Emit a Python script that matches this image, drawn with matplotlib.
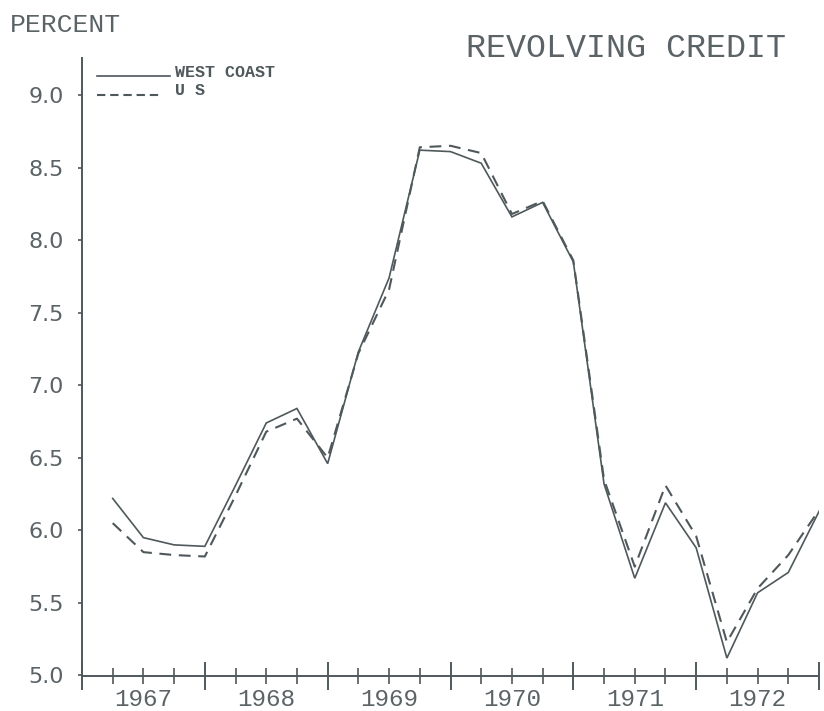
import numpy as np
import matplotlib
matplotlib.use('Agg')
import matplotlib.pyplot as plt
from matplotlib.lines import Line2D
from matplotlib.ticker import FixedLocator, FixedFormatter

# quarterly observations, plotted at end of quarter (decimal years)
quarters = [1967.25, 1967.50, 1967.75, 1968.00,
            1968.25, 1968.50, 1968.75, 1969.00,
            1969.25, 1969.50, 1969.75, 1970.00,
            1970.25, 1970.50, 1970.75, 1971.00,
            1971.25, 1971.50, 1971.75, 1972.00,
            1972.25, 1972.50, 1972.75, 1973.00]

west_coast = [6.22, 5.95, 5.90, 5.89,
              6.31, 6.74, 6.84, 6.46,
              7.23, 7.74, 8.62, 8.61,
              8.53, 8.16, 8.26, 7.85,
              6.32, 5.67, 6.19, 5.88,
              5.12, 5.57, 5.71, 6.13]

us = [6.05, 5.85, 5.83, 5.82,
      6.24, 6.68, 6.77, 6.50,
      7.22, 7.66, 8.64, 8.65,
      8.60, 8.18, 8.27, 7.86,
      6.35, 5.75, 6.31, 5.96,
      5.23, 5.60, 5.83, 6.14]

years = [1967, 1968, 1969, 1970, 1971, 1972]
y_ticks = [5.0, 5.5, 6.0, 6.5, 7.0, 7.5, 8.0, 8.5, 9.0]

INK = '#4f585b'
W, H = 824, 711
plt.rcParams['lines.scale_dashes'] = False

fig = plt.figure(figsize=(W / 100, H / 100), dpi=100)
ax = fig.add_axes([82 / W, 1 - 675.5 / H, (819 - 82) / W, (675.5 - 58) / H])

ax.plot(quarters, west_coast, color=INK, lw=1.2, solid_joinstyle='miter')
ax.plot(quarters, us, color=INK, lw=1.5, dashes=(8.5, 5.5))

ax.set_xlim(1967, 1973)
ax.set_ylim(5.0, 9.255)

for s in ['top', 'right']:
    ax.spines[s].set_visible(False)
for s in ['left', 'bottom']:
    ax.spines[s].set_color(INK)
    ax.spines[s].set_linewidth(1.4)

# y axis
ax.set_yticks(y_ticks)
ax.set_yticklabels([f'{v:.1f}' for v in y_ticks])
ax.tick_params(axis='y', direction='out', length=3, width=1.2, color=INK,
               labelcolor='#5b6366', labelsize=16, pad=10)
for lab in ax.get_yticklabels():
    lab.set_family('DejaVu Sans')

# x axis: long ticks at year boundaries, short ticks at quarters
major = years + [1973]
minor = [y + q for y in years for q in (0.25, 0.5, 0.75)]
ax.xaxis.set_major_locator(FixedLocator(major))
ax.xaxis.set_major_formatter(FixedFormatter([''] * len(major)))
ax.xaxis.set_minor_locator(FixedLocator(minor))
ax.xaxis.set_minor_formatter(FixedFormatter(
    [str(int(m)) if abs(m % 1 - 0.5) < 1e-6 else '' for m in minor]))
ax.tick_params(axis='x', which='major', direction='inout', length=20, width=1.4, color=INK)
ax.tick_params(axis='x', which='minor', direction='inout', length=12, width=1.2, color=INK,
               labelcolor='#5b6366', labelsize=17.5, pad=3)
for lab in ax.xaxis.get_minorticklabels():
    lab.set_family('Liberation Mono')

# titles
fig.text(10 / W, 1 - 32 / H, 'PERCENT', family='Liberation Mono', fontsize=19,
         color='#5b6366', ha='left', va='baseline')
fig.text(626 / W, 1 - 57 / H, 'REVOLVING CREDIT', family='Liberation Mono', fontsize=24,
         color='#5b6366', ha='center', va='baseline')

# legend
fig.add_artist(Line2D([97 / W, 170 / W], [1 - 76 / H, 1 - 76 / H], color=INK, lw=1.2))
fig.add_artist(Line2D([97 / W, 163 / W], [1 - 95 / H, 1 - 95 / H], color=INK, lw=1.5,
                      dashes=(6, 3.5)))
fig.text(175 / W, 1 - 77 / H, 'WEST COAST', family='Liberation Mono', fontsize=12,
         weight='bold', color=INK, ha='left', va='baseline')
fig.text(175 / W, 1 - 95 / H, 'U S', family='Liberation Mono', fontsize=12,
         weight='bold', color=INK, ha='left', va='baseline')

fig.savefig('out.png', dpi=100, facecolor='white')
